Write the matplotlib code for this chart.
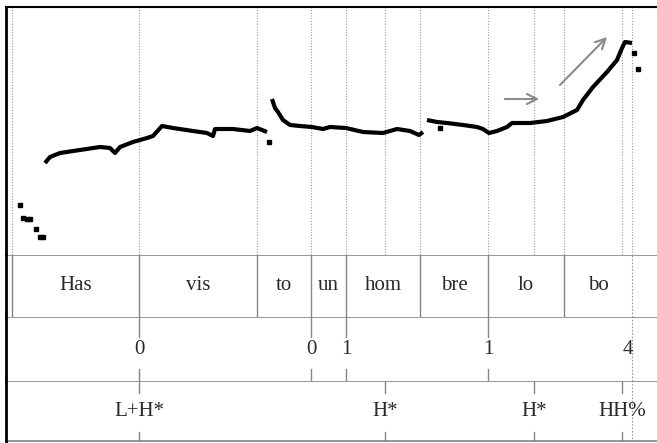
import matplotlib
matplotlib.use("Agg")
import matplotlib.pyplot as plt

# pitch track (time in s, f0 in Hz), split into voiced stretches
seg_a_t = [0.056, 0.068, 0.084, 0.096, 0.12, 0.136, 0.148]
seg_a_f = [150, 137, 136, 136, 126, 118, 118]

seg_b_t = [0.156, 0.176, 0.216, 0.296, 0.376, 0.416, 0.436, 0.456, 0.508, 0.564,
           0.588, 0.624, 0.668, 0.748, 0.804, 0.828, 0.836, 0.908, 0.976, 1.004, 1.044]
seg_b_f = [192, 198, 202, 205, 208, 207, 202, 208, 213, 217,
           219, 229, 227, 224, 222, 219, 226, 226, 224, 227, 223]

seg_d_t = [1.064, 1.076, 1.088, 1.108, 1.136, 1.176, 1.224, 1.268, 1.296, 1.36,
           1.428, 1.508, 1.564, 1.616, 1.652, 1.668]
seg_d_f = [256, 247, 243, 235, 230, 229, 228, 226, 228, 227,
           223, 222, 226, 224, 220, 223]

seg_e_t = [1.684, 1.724, 1.764, 1.828, 1.884, 1.908, 1.932, 1.964, 2.004, 2.024,
           2.096, 2.164, 2.228, 2.284, 2.308, 2.348, 2.404, 2.444, 2.464, 2.476, 2.504]
seg_e_f = [235, 233, 232, 230, 228, 226, 222, 224, 228, 232,
           232, 234, 238, 245, 255, 268, 283, 295, 307, 313, 312]

stray_t = [1.052, 1.736, 2.512, 2.528]
stray_f = [213, 227, 302, 286]

# tiers
word_bounds = [0.024, 0.532, 1.004, 1.22, 1.36, 1.656, 1.928, 2.232, 2.504]
words = ["Has", "vis", "to", "un", "hom", "bre", "lo", "bo"]
break_times = [0.532, 1.22, 1.36, 1.928, 2.488]
breaks = ["0", "0", "1", "1", "4"]
tone_times = [0.532, 1.516, 2.112, 2.464]
tones = ["L+H*", "H*", "H*", "HH%"]
guide_times = [0.024, 0.532, 1.004, 1.22, 1.36, 1.516, 1.656, 1.928,
               2.112, 2.232, 2.464, 2.504]

T_MAX = 2.604
GREY = "#858585"
TXT = "#2a2a2a"
FONT = "Liberation Serif"
FS = 15

W, H = 657, 443
fig = plt.figure(figsize=(W / 100, H / 100), dpi=100)


def add_ax(top, bottom):
    ax = fig.add_axes([6 / W, 1 - bottom / H, 1 - 6 / W, (bottom - top) / H])
    ax.set_xlim(0, T_MAX)
    ax.set_xticks([])
    ax.set_yticks([])
    for s in ax.spines.values():
        s.set_visible(False)
    ax.spines["left"].set_visible(True)
    ax.spines["left"].set_linewidth(2)
    ax.spines["left"].set_color("black")
    return ax


ax_p = add_ax(7, 255)
ax_w = add_ax(255, 317)
ax_b = add_ax(317, 381)
ax_t = add_ax(381, 442)

# pitch panel
ax_p.set_ylim(100, 348)
ax_p.spines["top"].set_visible(True)
ax_p.spines["top"].set_linewidth(1.5)
for t in guide_times:
    ax_p.axvline(t, color="#9a9a9a", lw=0.8, ls=(0, (1, 1.5)))
for ts, fs in [(seg_b_t, seg_b_f), (seg_d_t, seg_d_f), (seg_e_t, seg_e_f)]:
    ax_p.plot(ts, fs, color="black", lw=3, solid_capstyle="butt")
ax_p.plot(seg_a_t, seg_a_f, "s", color="black", ms=3)
ax_p.plot(stray_t, stray_f, "s", color="black", ms=3)

arrow = dict(arrowstyle="->", color="#8a8a8a", lw=1.5, mutation_scale=18)
ax_p.annotate("", xy=(2.144, 256), xytext=(1.984, 256), arrowprops=arrow)
ax_p.annotate("", xy=(2.412, 320), xytext=(2.208, 268), arrowprops=arrow)

# tiers
for ax in (ax_w, ax_b, ax_t):
    ax.set_ylim(0, 1)
    ax.axhline(1, color=GREY, lw=1.2)
    ax.axvline(2.504, color="#9a9a9a", lw=0.8, ls=(0, (1.5, 1.5)))
ax_t.axhline(0.01, color=GREY, lw=1.2)

for b in word_bounds[:-1]:
    ax_w.axvline(b, color=GREY, lw=1)
for i, w in enumerate(words):
    mid = (word_bounds[i] + word_bounds[i + 1]) / 2
    ax_w.text(mid, 0.5, w, ha="center", va="center", fontsize=FS,
              family=FONT, color=TXT)

for t, lab in zip(break_times, breaks):
    if lab != "4":
        ax_b.plot([t, t], [1, 0.68], color=GREY, lw=1)
        ax_b.plot([t, t], [0.18, 0], color=GREY, lw=1)
    ax_b.text(t, 0.5, lab, ha="center", va="center", fontsize=FS,
              family=FONT, color=TXT)

for t, lab in zip(tone_times, tones):
    ax_t.plot([t, t], [1, 0.8], color=GREY, lw=1)
    ax_t.plot([t, t], [0.17, 0], color=GREY, lw=1)
    ax_t.text(t, 0.5, lab, ha="center", va="center", fontsize=FS,
              family=FONT, color=TXT)

fig.savefig("out.png", dpi=100)
